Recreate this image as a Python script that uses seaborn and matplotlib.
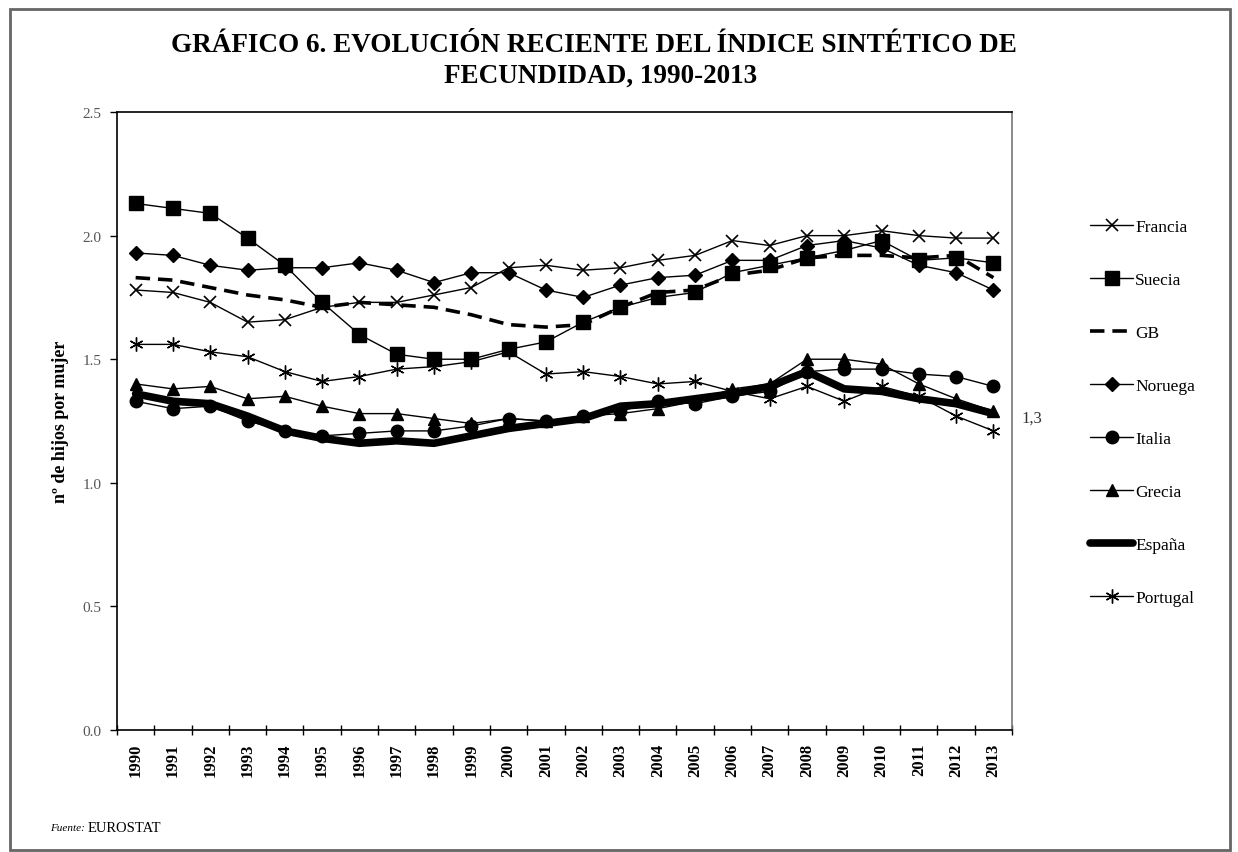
import matplotlib
matplotlib.use("Agg")
import matplotlib.pyplot as plt
import seaborn as sns
import pandas as pd
from matplotlib.patches import Rectangle

years = list(range(1990, 2014))

francia = [1.78, 1.77, 1.73, 1.65, 1.66, 1.71, 1.73, 1.73, 1.76, 1.79, 1.87, 1.88,
           1.86, 1.87, 1.90, 1.92, 1.98, 1.96, 2.00, 2.00, 2.02, 2.00, 1.99, 1.99]
suecia = [2.13, 2.11, 2.09, 1.99, 1.88, 1.73, 1.60, 1.52, 1.50, 1.50, 1.54, 1.57,
          1.65, 1.71, 1.75, 1.77, 1.85, 1.88, 1.91, 1.94, 1.98, 1.90, 1.91, 1.89]
gb = [1.83, 1.82, 1.79, 1.76, 1.74, 1.71, 1.73, 1.72, 1.71, 1.68, 1.64, 1.63,
      1.64, 1.71, 1.77, 1.78, 1.84, 1.86, 1.91, 1.92, 1.92, 1.91, 1.92, 1.83]
noruega = [1.93, 1.92, 1.88, 1.86, 1.87, 1.87, 1.89, 1.86, 1.81, 1.85, 1.85, 1.78,
           1.75, 1.80, 1.83, 1.84, 1.90, 1.90, 1.96, 1.98, 1.95, 1.88, 1.85, 1.78]
italia = [1.33, 1.30, 1.31, 1.25, 1.21, 1.19, 1.20, 1.21, 1.21, 1.23, 1.26, 1.25,
          1.27, 1.29, 1.33, 1.32, 1.35, 1.37, 1.45, 1.46, 1.46, 1.44, 1.43, 1.39]
grecia = [1.40, 1.38, 1.39, 1.34, 1.35, 1.31, 1.28, 1.28, 1.26, 1.24, 1.26, 1.25,
          1.27, 1.28, 1.30, 1.33, 1.38, 1.40, 1.50, 1.50, 1.48, 1.40, 1.34, 1.29]
espana = [1.36, 1.33, 1.32, 1.27, 1.21, 1.18, 1.16, 1.17, 1.16, 1.19, 1.22, 1.24,
          1.26, 1.31, 1.32, 1.34, 1.36, 1.39, 1.45, 1.38, 1.37, 1.34, 1.32, 1.28]
portugal = [1.56, 1.56, 1.53, 1.51, 1.45, 1.41, 1.43, 1.46, 1.47, 1.49, 1.53, 1.44,
            1.45, 1.43, 1.40, 1.41, 1.37, 1.34, 1.39, 1.33, 1.39, 1.35, 1.27, 1.21]

series = ["Francia", "Suecia", "GB", "Noruega", "Italia", "Grecia", "España", "Portugal"]
values = [francia, suecia, gb, noruega, italia, grecia, espana, portugal]

# style per series: marker, size, linewidth, linestyle
styles = {
    "Francia":  dict(marker="x", markersize=9, lw=1.0, ls="-", mew=1.2),
    "Suecia":   dict(marker="s", markersize=9.5, lw=1.0, ls="-", mew=1.0),
    "GB":       dict(marker=None, markersize=0, lw=2.6, ls=(0, (4, 2.2)), mew=0),
    "Noruega":  dict(marker="D", markersize=7.5, lw=1.0, ls="-", mew=1.0),
    "Italia":   dict(marker="o", markersize=9, lw=1.0, ls="-", mew=1.0),
    "Grecia":   dict(marker="^", markersize=9, lw=1.0, ls="-", mew=1.0),
    "España":   dict(marker=None, markersize=0, lw=5.5, ls="-", mew=0),
    "Portugal": dict(marker=(6, 2, 0), markersize=10, lw=1.0, ls="-", mew=1.0),
}

df = pd.DataFrame({"year": years * len(series),
                   "valor": sum(values, []),
                   "pais": [s for s in series for _ in years]})

sns.set_theme(style="white")
plt.rcParams['font.family'] = ['Liberation Serif', 'DejaVu Serif']
plt.rcParams['text.color'] = 'black'

fig = plt.figure(figsize=(12.38, 8.53), dpi=100)
ax = fig.add_axes([0.0945, 0.143, 0.7230, 0.7245])

for s in series:
    st = styles[s]
    sub = df[df["pais"] == s]
    sns.lineplot(data=sub, x="year", y="valor", ax=ax, color="black",
                 linewidth=st["lw"], linestyle=st["ls"], marker=st["marker"],
                 markersize=st["markersize"], markeredgewidth=st["mew"],
                 markeredgecolor="black", markerfacecolor="black", label=s)

ax.set_xlim(1989.5, 2013.5)
ax.set_ylim(0, 2.5)
ax.set_xticks(years)
ax.set_xticklabels([str(y) for y in years], rotation=90, fontsize=12,
                   fontweight="bold", color="black")
ax.set_xticks([y - 0.5 for y in years] + [2013.5], minor=True)
ax.tick_params(axis="x", which="major", length=0, pad=9)
ax.tick_params(axis="x", which="minor", length=7, width=1, direction="inout",
               color="black", bottom=True)
ax.set_yticks([0.0, 0.5, 1.0, 1.5, 2.0, 2.5])
ax.set_yticklabels(["0.0", "0.5", "1.0", "1.5", "2.0", "2.5"], fontsize=11,
                   color="#555555")
ax.tick_params(axis="y", which="major", length=5, width=1, direction="out",
               color="black", left=True, pad=6)

for side in ["left", "bottom", "top"]:
    ax.spines[side].set_color("black")
    ax.spines[side].set_linewidth(1.2)
ax.spines["right"].set_color("#777777")
ax.spines["right"].set_linewidth(1.2)

ax.set_xlabel("")
ax.set_ylabel("nº de hijos por mujer", fontsize=13, fontweight="bold", color="black")
ax.yaxis.set_label_coords(-0.054, 0.5)

ax.annotate("1,3", xy=(2013, espana[-1]), xytext=(20, -3),
            textcoords="offset points", fontsize=12, color="#333333",
            va="center", ha="left", annotation_clip=False)

handles, labels = ax.get_legend_handles_labels()
leg = ax.legend(handles, labels, loc="upper left",
                bbox_to_anchor=(1083 / 1238, 1 - 213 / 853),
                bbox_transform=fig.transFigure, frameon=False, fontsize=12.5,
                labelspacing=2.12, handlelength=2.5, handletextpad=0.1, borderaxespad=0)

fig.text(0.48, 1 - 45 / 853, "GRÁFICO 6. EVOLUCIÓN RECIENTE DEL ÍNDICE SINTÉTICO DE",
         ha="center", va="center", fontsize=19.5, fontweight="bold")
fig.text(0.485, 1 - 76 / 853, "FECUNDIDAD, 1990-2013",
         ha="center", va="center", fontsize=19.5, fontweight="bold")

fig.text(50 / 1238, 1 - 829 / 853, "Fuente:", fontsize=8, fontstyle="italic",
         ha="left", va="center")
fig.text(88 / 1238, 1 - 829 / 853, "EUROSTAT", fontsize=10.5, ha="left", va="center")

fig.patches.append(Rectangle((10 / 1238, 0.002), 1220 / 1238, 1 - 10 / 853 - 0.002,
                             transform=fig.transFigure, fill=False,
                             edgecolor="#666666", linewidth=2))

fig.savefig("out.png", dpi=100)
